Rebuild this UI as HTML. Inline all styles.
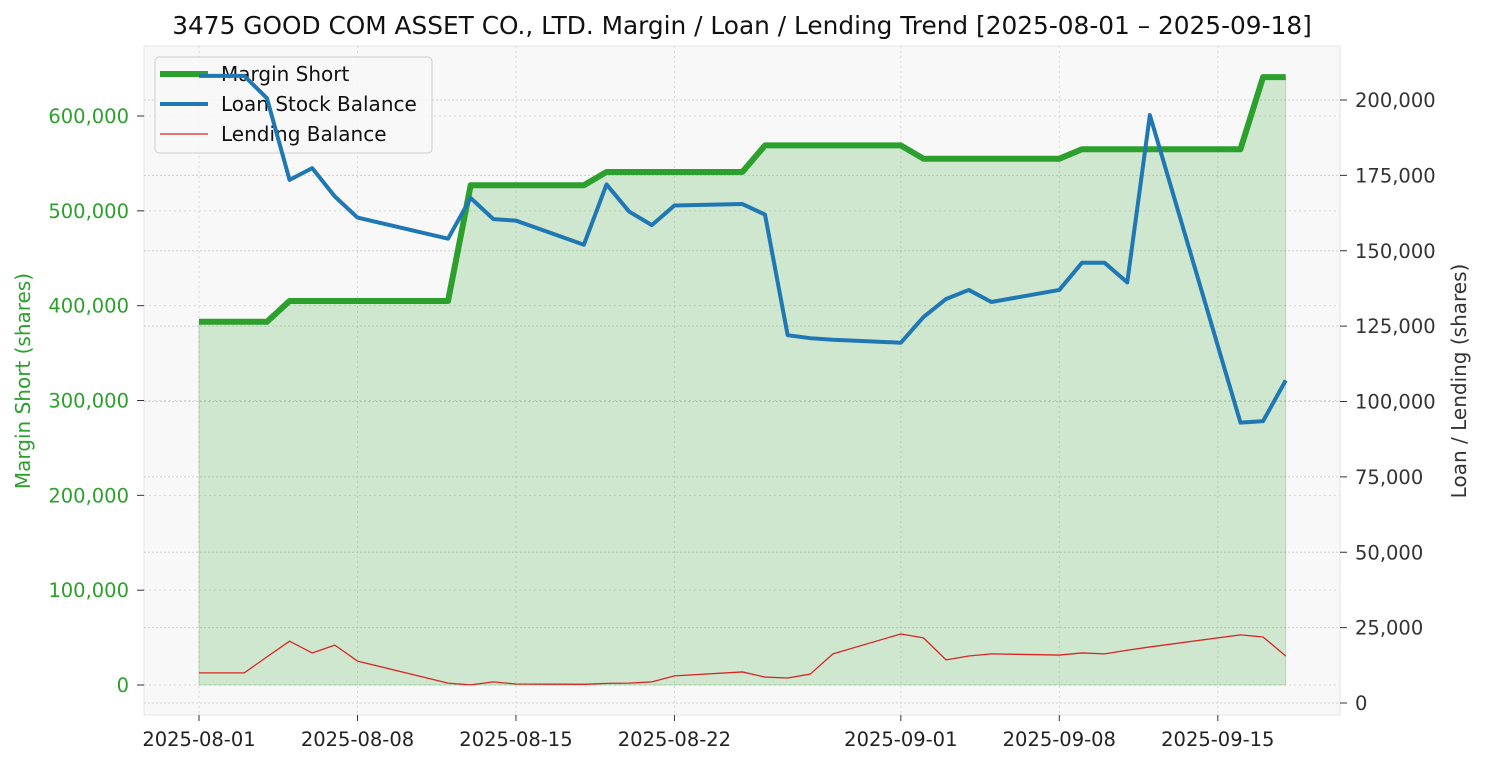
<!DOCTYPE html>
<html><head><meta charset="utf-8"><style>
body{margin:0;background:#fff;font-family:"Liberation Sans","DejaVu Sans",sans-serif}
svg text{font-family:"DejaVu Sans","Liberation Sans",sans-serif}
</style></head><body>
<svg id="chart" width="1485" height="765" xmlns="http://www.w3.org/2000/svg">
<rect width="1485" height="765" fill="#fff"/>
<rect x="144" y="46" width="1196" height="669" fill="#f8f8f8" stroke="#e6e6e6"/>
<text x="742" y="34" text-anchor="middle" font-size="24.8" fill="#111">3475 GOOD COM ASSET CO., LTD. Margin / Loan / Lending Trend [2025-08-01 – 2025-09-18]</text>
<g id="grid"></g><g id="area"></g>
<g>
<rect x="155" y="57" width="277" height="96" rx="4" fill="#f8f8f8" fill-opacity="0.85" stroke="#ccc"/>
<line x1="160" y1="74" x2="208" y2="74" stroke="#2ca02c" stroke-width="6"/>
<text x="221" y="81" font-size="20" fill="#111">Margin Short</text>
<line x1="160" y1="104" x2="208" y2="104" stroke="#1f77b4" stroke-width="4"/>
<text x="221" y="111" font-size="20" fill="#111">Loan Stock Balance</text>
<line x1="160" y1="134" x2="208" y2="134" stroke="#d62728" stroke-width="1.2"/>
<text x="221" y="141" font-size="20" fill="#111">Lending Balance</text>
</g>
<g id="lines"></g><g id="axes"></g>
<text transform="translate(30,381) rotate(-90)" text-anchor="middle" font-size="20" fill="#2ca02c">Margin Short (shares)</text>
<text transform="translate(1466,381) rotate(-90)" text-anchor="middle" font-size="20" fill="#333">Loan / Lending (shares)</text>
</svg>
<script>
const dates=["2025-08-01","2025-08-03","2025-08-04","2025-08-05","2025-08-06","2025-08-07","2025-08-08","2025-08-12","2025-08-13","2025-08-14","2025-08-15","2025-08-18","2025-08-19","2025-08-20","2025-08-21","2025-08-22","2025-08-25","2025-08-26","2025-08-27","2025-08-28","2025-08-29","2025-09-01","2025-09-02","2025-09-03","2025-09-04","2025-09-05","2025-09-08","2025-09-09","2025-09-10","2025-09-11","2025-09-12","2025-09-16","2025-09-17","2025-09-18"];
const marginShort=[383000,383000,383000,405000,405000,405000,405000,405000,527000,527000,527000,527000,541000,541000,541000,541000,541000,569000,569000,569000,569000,569000,555000,555000,555000,555000,555000,565000,565000,565000,565000,565000,641000,641000];
const loanBalance=[208000,208000,200600,173500,177400,168000,161000,154000,167500,160500,160000,152000,172000,163000,158500,165000,165500,162000,122000,121000,120500,119500,128000,134000,137000,133000,137000,146000,146000,139500,195000,93000,93500,107000];
const lendingBalance=[10000,10000,15300,20500,16600,19200,13900,6600,6000,7000,6300,6200,6500,6600,7000,9000,10300,8600,8300,9600,16300,22900,21600,14300,15600,16300,15900,16600,16300,17500,18600,22600,21900,15600];
const xTickLabels=["2025-08-01","2025-08-08","2025-08-15","2025-08-22","2025-09-01","2025-09-08","2025-09-15"];
const leftTicks=[0,100000,200000,300000,400000,500000,600000];
const rightTicks=[0,25000,50000,75000,100000,125000,150000,175000,200000];
const NS="http://www.w3.org/2000/svg";
const t0=Date.parse("2025-08-01");
function x(d){return 199+(Date.parse(d)-t0)/86400000*22.64;}
function yL(v){return 685-v*0.0009483;}
function yR(v){return 703-v*0.003015;}
function mk(tag,attrs,parent){const e=document.createElementNS(NS,tag);for(const k in attrs)e.setAttribute(k,attrs[k]);document.getElementById(parent).appendChild(e);return e;}
const fmt=v=>v.toLocaleString("en-US");
xTickLabels.forEach(d=>{
  const g=mk("line",{x1:x(d),x2:x(d),y1:46,y2:715,stroke:"#d8d8d8","stroke-dasharray":"2,3"},"grid");
  
  
  mk("line",{x1:x(d),x2:x(d),y1:715,y2:721,stroke:"#333"},"axes");
  const t=mk("text",{x:x(d),y:746,"text-anchor":"middle","font-size":"19.5",fill:"#222"},"axes");
  t.textContent=d;
  
  
});
leftTicks.forEach(v=>{
  const g=mk("line",{x1:144,x2:1340,y1:yL(v),y2:yL(v),stroke:"#d8d8d8","stroke-dasharray":"2,3"},"grid");
  
  
  mk("line",{x1:137,x2:144,y1:yL(v),y2:yL(v),stroke:"#333"},"axes");
  const t=mk("text",{x:129,y:yL(v)+7,"text-anchor":"end","font-size":"19.5",fill:"#2ca02c"},"axes");
  t.textContent=fmt(v);
  
  
});
rightTicks.forEach(v=>{
  const g=mk("line",{x1:144,x2:1340,y1:yR(v),y2:yR(v),stroke:"#d0d0d0","stroke-dasharray":"2,2"},"grid");
  
  
  mk("line",{x1:1340,x2:1347,y1:yR(v),y2:yR(v),stroke:"#333"},"axes");
  const t=mk("text",{x:1355,y:yR(v)+7,"text-anchor":"start","font-size":"19.5",fill:"#333"},"axes");
  t.textContent=fmt(v);
  
  
});
let ap="M"+x(dates[0])+","+yL(0);
dates.forEach((d,i)=>{ap+=" L"+x(d)+","+yL(marginShort[i]);});
ap+=" L"+x(dates[dates.length-1])+","+yL(0)+" Z";
const area=mk("path",{d:ap,fill:"#2ca02c","fill-opacity":"0.2",stroke:"#2ca02c","stroke-opacity":"0.25"},"area");


function line(vals,yf,color,w,name){
  const p=dates.map((d,i)=>x(d)+","+yf(vals[i])).join(" ");
  const e=mk("polyline",{points:p,fill:"none",stroke:color,"stroke-width":w,"stroke-linejoin":"round"},"lines");
  
  
}
line(marginShort,yL,"#2ca02c",6,"margin-short-line");
line(loanBalance,yR,"#1f77b4",4,"loan-stock-balance-line");
line(lendingBalance,yR,"#d62728",1.3,"lending-balance-line");
</script>
</body></html>
